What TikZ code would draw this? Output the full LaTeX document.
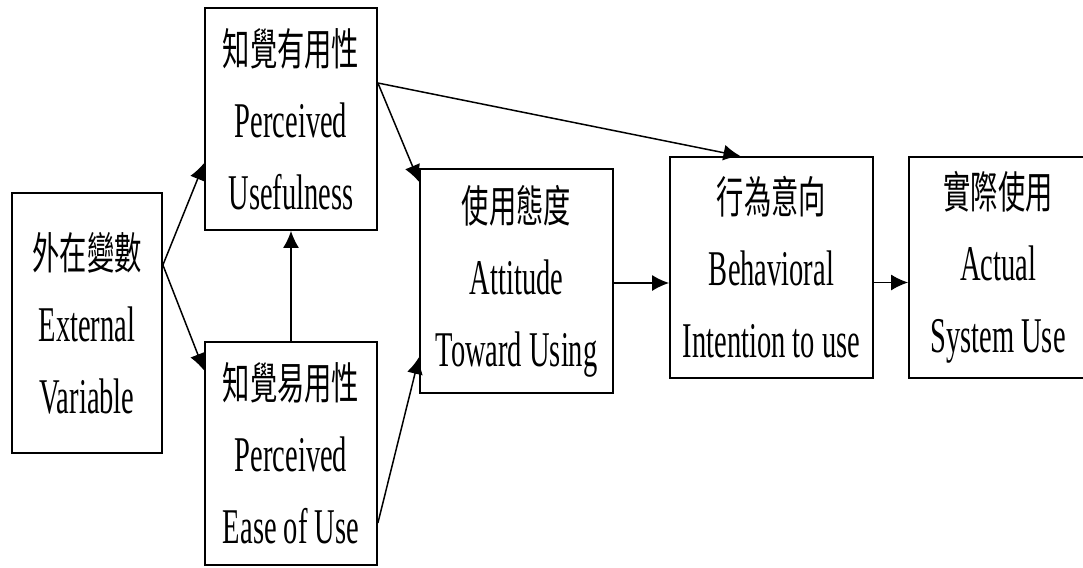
\documentclass[tikz,border=0pt]{standalone}
\usepackage{fontspec}
\setmainfont[FakeStretch=0.57]{Liberation Serif}
\newfontfamily\cjk[FakeStretch=0.62]{Noto Sans CJK TC}
\usetikzlibrary{arrows.meta}

\begin{document}
\begin{tikzpicture}[x=1pt,y=-1pt,
    box/.style={draw,line width=1.8pt,inner sep=0pt,align=center,
      font=\fontsize{50}{72}\selectfont},
    link/.style={line width=1.5pt,-{Latex[length=17pt,width=16pt]}}]
   \useasboundingbox (0,0) rectangle (1083,567);

   \node[box,minimum width=150,minimum height=260] (ext) at (87,323)
      {{\cjk\fontsize{44}{72}\selectfont 外在變數}\\External\\Variable};
   \node[box,minimum width=172,minimum height=222] (pu) at (291,119)
      {{\cjk\fontsize{44}{72}\selectfont 知覺有用性}\\Perceived\\Usefulness};
   \node[box,minimum width=172,minimum height=223] (peou) at (291,453.5)
      {{\cjk\fontsize{44}{72}\selectfont 知覺易用性}\\Perceived\\Ease of Use};
   \node[box,minimum width=193,minimum height=224] (att) at (516.5,281)
      {{\cjk\fontsize{44}{72}\selectfont 使用態度}\\Attitude\\Toward Using};
   \node[box,minimum width=203,minimum height=221] (bi) at (771.5,267.5)
      {{\cjk\fontsize{44}{72}\selectfont 行為意向}\\Behavioral\\Intention to use};
   \node[box,minimum width=178,minimum height=221] (act) at (998,267.5)
      {{\cjk\fontsize{44}{72}\selectfont 實際使用}\\Actual\\System Use};

   \draw[link] ([yshift=58pt]ext.east) -- ([yshift=-44pt]pu.west);
   \draw[link] ([yshift=58pt]ext.east) -- ([yshift=83pt]peou.west);
   \draw[link] (peou.north) -- (pu.south);
   \draw[link] ([yshift=36pt]pu.east) -- ([yshift=99pt]att.west);
   \draw[link] ([yshift=36pt]pu.east) -- ([xshift=-31pt]bi.north);
   \draw[link] ([yshift=-69.5pt]peou.east) -- ([yshift=-76pt]att.west);
   \draw[link] ([yshift=-2pt]att.east) -- ([yshift=-2pt]att.east -| bi.west);
   \draw[link] ([yshift=-15pt]bi.east) -- ([yshift=-15pt]bi.east -| act.west);

\end{tikzpicture}
\end{document}
